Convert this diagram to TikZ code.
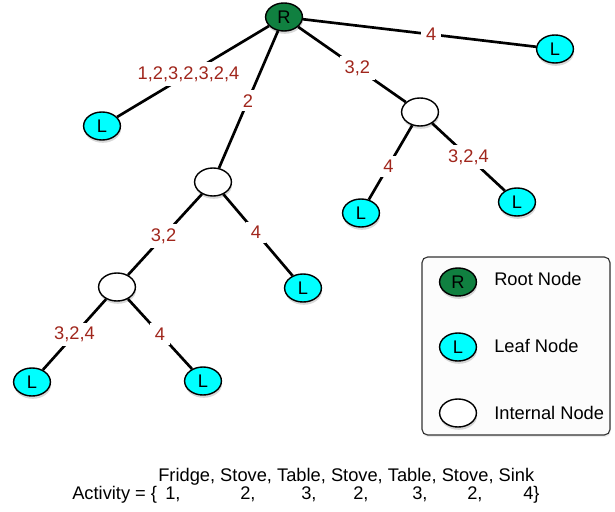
\documentclass[tikz,border=0pt]{standalone}
\usepackage{fontspec}
\setmainfont{Liberation Sans}
\usetikzlibrary{positioning}
\usetikzlibrary{shapes.geometric}
\usetikzlibrary{shadows}
\definecolor{rootgreen}{RGB}{16,128,64}
\definecolor{leafcyan}{RGB}{0,255,255}
\definecolor{labelred}{RGB}{160,38,28}
\tikzset{treenode/.style={ellipse,draw=black,line width=1pt,inner sep=0pt,
minimum width=0.92cm, minimum height=0.7cm, font=\fontsize{13}{16}\selectfont,
drop shadow={opacity=0.3,shadow xshift=0.5pt,shadow yshift=-2pt}}}
\tikzset{rootnode/.style={treenode,fill=rootgreen}}
\tikzset{leafnode/.style={treenode,fill=leafcyan}}
\tikzset{innernode/.style={treenode,fill=white}}
\tikzset{branch/.style={line width=1.9pt}}
\tikzset{seqlabel/.style={rectangle,fill=white,text=labelred,
inner xsep=3.5pt,inner ysep=3pt,font=\fontsize{13}{16}\selectfont}}
\tikzset{plaintext/.style={inner sep=0pt,font=\fontsize{13}{16}\selectfont}}

\begin{document}
\begin{tikzpicture}[x=0.025cm,y=-0.025cm]
        \useasboundingbox (0,0) rectangle (615,511);

        % tree
        \node[rootnode] (root) at (284,17) {R};
        \node[leafnode] (leafA) at (102,126) {L};
        \node[leafnode] (leafB) at (555,49) {L};
        \node[innernode] (innerA) at (420,112) {};
        \node[leafnode] (leafC) at (361,213) {L};
        \node[leafnode] (leafD) at (517,202) {L};
        \node[innernode] (innerB) at (213,182) {};
        \node[leafnode] (leafE) at (303,288) {L};
        \node[innernode] (innerC) at (117,287) {};
        \node[leafnode] (leafF) at (32,382) {L};
        \node[leafnode] (leafG) at (203,381) {L};

        \draw[branch] (root) --node[seqlabel, pos=0.53] {1,2,3,2,3,2,4} (leafA);
        \draw[branch] (root) --node[seqlabel, pos=0.51] {2} (innerB);
        \draw[branch] (root) --node[seqlabel, pos=0.55] {3,2} (innerA);
        \draw[branch] (root) --node[seqlabel, pos=0.55] {4} (leafB);
        \draw[branch] (innerA) --node[seqlabel, pos=0.55] {4} (leafC);
        \draw[branch] (innerA) --node[seqlabel, pos=0.5] {3,2,4} (leafD);
        \draw[branch] (innerB) --node[seqlabel, pos=0.52] {3,2} (innerC);
        \draw[branch] (innerB) --node[seqlabel, pos=0.47] {4} (leafE);
        \draw[branch] (innerC) --node[seqlabel, pos=0.5] {3,2,4} (leafF);
        \draw[branch] (innerC) --node[seqlabel, pos=0.5] {4} (leafG);

        % legend
        \draw[draw=black!80, line width=0.8pt, rounded corners=4pt, fill=white!99!black,
          drop shadow={opacity=0.15,shadow xshift=0.5pt,shadow yshift=-1.5pt}]
          (422,257) rectangle (610,435);
        \node[rootnode] (keyroot) at (458,282) {R};
        \node[leafnode] (keyleaf) at (458,347) {L};
        \node[innernode] (keyinner) at (458,413) {};
        \node[plaintext, anchor=base west] (keyrootname) at (494,285) {Root Node};
        \node[plaintext, anchor=base west] (keyleafname) at (494,352) {Leaf Node};
        \node[plaintext, anchor=base west] (keyinnername) at (494,419) {Internal Node};

        % activity sequence
        \node[plaintext, anchor=base west] (places) at (158,481) {Fridge, Stove, Table, Stove, Table, Stove, Sink};
        \node[plaintext, anchor=base west] (activity) at (72,499) {Activity = \{};
        \foreach \x/\d [count=\i] in {165/1,240/2,301/3,353/2,412/3,467/2}
            \node[plaintext, anchor=base west] (step\i) at (\x,499) {\d,};
        \node[plaintext, anchor=base west] (step7) at (523,499) {4\}};

    \end{tikzpicture}
\end{document}
